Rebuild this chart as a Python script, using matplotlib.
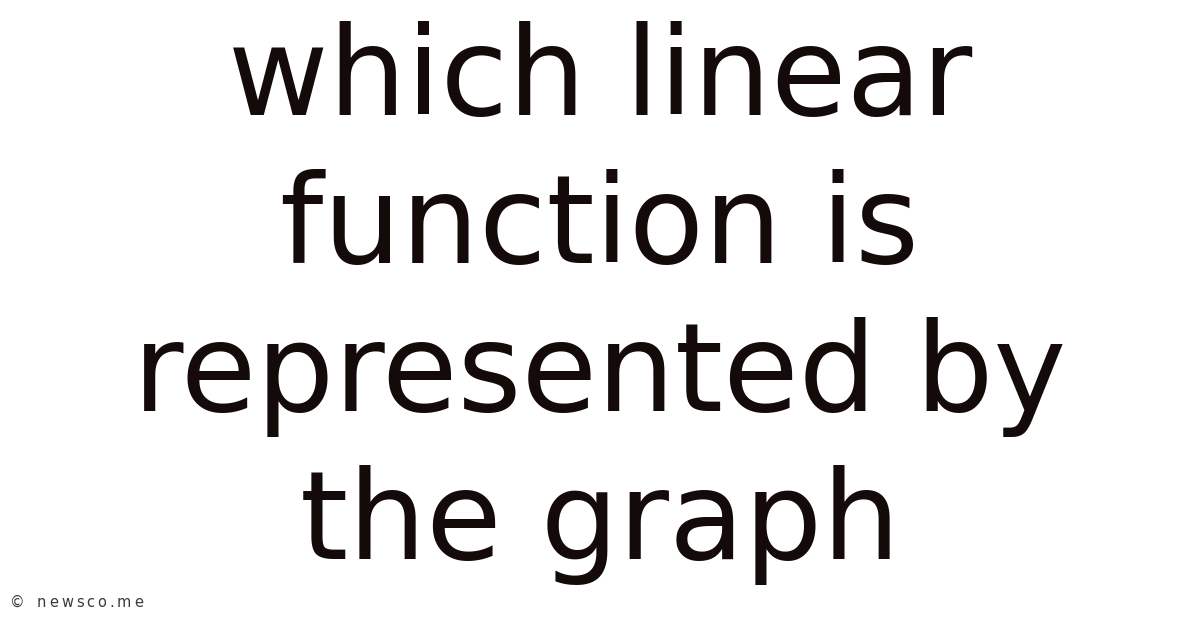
import matplotlib
matplotlib.use("Agg")
import matplotlib.pyplot as plt

title_lines = ["which linear", "function is", "represented by", "the graph"]
watermark = "© newsco.me"

W, H, DPI = 1200, 628, 100
fig = plt.figure(figsize=(W / DPI, H / DPI), dpi=DPI)
fig.patch.set_facecolor("white")

baselines = [115, 263, 411, 559]
for line, b in zip(title_lines, baselines):
    fig.text(0.5, 1 - b / H, line, ha="center", va="baseline",
             fontsize=88.5, color="#140a0a", family="DejaVu Sans")

# watermark with letter spacing
renderer = fig.canvas.get_renderer()
x_px = 10.0
tracking = 2.9
for ch in watermark:
    t = fig.text(x_px / W, 1 - 607 / H, ch, ha="left", va="baseline",
                 fontsize=10.5, color="#3a3a3a", family="DejaVu Sans",
                 fontweight="medium")
    if ch == " ":
        w = 6.5
    else:
        w = t.get_window_extent(renderer=renderer).width
    x_px += w + tracking

fig.savefig("out.png", dpi=DPI, facecolor="white")
